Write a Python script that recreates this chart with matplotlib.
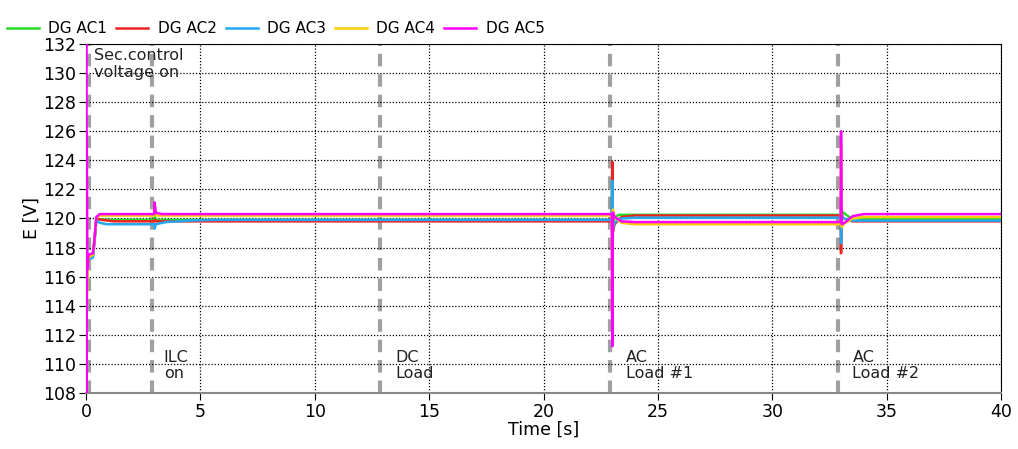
import numpy as np
import matplotlib
matplotlib.use("Agg")
import matplotlib.pyplot as plt

# series: (time [s], voltage [V]) breakpoints
t_ac1 = [0, 0.02, 0.05, 0.1, 0.3, 0.38, 0.45, 0.6, 1.0, 2.98, 3.0, 3.05, 4.0,
         22.98, 23.0, 23.03, 23.1, 23.3, 24.0, 32.98, 33.0, 33.03, 33.1, 33.4, 34.0, 40]
v_ac1 = [120, 114, 116.5, 117.3, 117.5, 118.8, 119.9, 119.95, 119.9, 119.9, 120.1, 119.9, 119.9,
         119.9, 123.7, 119.4, 120.1, 120.25, 120.25, 120.25, 119.2, 120.5, 120.4, 120.05, 119.95, 119.95]

t_ac2 = [0, 0.02, 0.05, 0.1, 0.3, 0.38, 0.45, 0.7, 1.2, 2.98, 3.0, 3.05, 4.0,
         22.98, 23.0, 23.03, 23.1, 23.4, 24.0, 32.98, 33.0, 33.03, 33.1, 33.5, 34.0, 40]
v_ac2 = [120, 113, 116.2, 117.2, 117.4, 118.6, 120.0, 119.9, 119.8, 119.8, 119.9, 119.8, 119.8,
         119.8, 123.9, 119.1, 119.6, 120.1, 120.2, 120.2, 117.6, 120.3, 120.0, 119.8, 119.8, 119.8]

t_ac3 = [0, 0.02, 0.05, 0.1, 0.3, 0.38, 0.45, 0.6, 0.9, 2.98, 3.0, 3.05, 3.5, 4.5, 5.5,
         22.98, 23.0, 23.03, 23.1, 23.4, 24.0, 32.98, 33.0, 33.03, 33.1, 33.5, 34.0, 40]
v_ac3 = [120, 113.5, 116.8, 117.2, 117.3, 118.5, 119.9, 119.7, 119.6, 119.6, 119.3, 119.6, 119.75, 119.85, 119.9,
         119.9, 122.6, 119.3, 119.7, 120.0, 120.05, 120.05, 118.3, 120.2, 120.0, 119.85, 119.85, 119.85]

t_ac4 = [0, 0.02, 0.05, 0.1, 0.3, 0.38, 0.45, 0.6, 1.0, 2.98, 3.0, 3.05, 4.0,
         22.98, 23.0, 23.03, 23.1, 23.4, 24.0, 32.98, 33.0, 33.03, 33.1, 33.5, 34.0, 40]
v_ac4 = [120, 112, 116.0, 117.3, 117.5, 118.7, 120.1, 120.2, 120.2, 120.2, 120.6, 120.2, 120.2,
         120.2, 111.5, 120.6, 120.1, 119.7, 119.6, 119.6, 125.0, 119.4, 119.6, 120.0, 120.1, 120.1]

t_ac5 = [0, 0.005, 0.012, 0.03, 0.06, 0.1, 0.3, 0.36, 0.45, 0.6, 1.0, 2.98, 3.0, 3.05, 3.3, 4.0,
         22.98, 23.0, 23.03, 23.1, 23.4, 24.0, 32.98, 33.0, 33.03, 33.15, 33.5, 34.0, 40]
v_ac5 = [120, 140, 100, 126, 116.5, 117.5, 117.6, 118.4, 120.1, 120.3, 120.3, 120.3, 121.1, 120.4, 120.3, 120.3,
         120.3, 111.2, 120.4, 120.1, 119.8, 119.75, 119.75, 126.0, 119.6, 119.7, 120.15, 120.3, 120.3]

series = [("DG AC1", t_ac1, v_ac1, "#22dd22"),
          ("DG AC2", t_ac2, v_ac2, "#ee2222"),
          ("DG AC3", t_ac3, v_ac3, "#22a8f0"),
          ("DG AC4", t_ac4, v_ac4, "#ffcc00"),
          ("DG AC5", t_ac5, v_ac5, "#ff00ff")]

event_times = [0.15, 2.9, 12.85, 22.9, 32.85]
event_labels = [(0.35, 131.7, "Sec.control\nvoltage on"),
                (3.4, 110.95, "ILC\non"),
                (13.5, 110.95, "DC\nLoad"),
                (23.6, 110.95, "AC\nLoad #1"),
                (33.5, 110.95, "AC\nLoad #2")]

fig = plt.figure(figsize=(10.18, 4.49), dpi=100)
ax = fig.add_axes([0.0845, 0.125, 0.899, 0.777])

for xv in event_times:
    ax.axvline(xv, color="#a0a0a0", lw=3, ls=(0, (3, 1.9)), zorder=1)

for name, t, v, c in series:
    ax.plot(t, v, color=c, lw=1.8, label=name, zorder=3)

for x, y, s in event_labels:
    ax.text(x, y, s, fontsize=11.5, va="top", ha="left", color="#222222",
            linespacing=1.1, zorder=4)

ax.set_xlim(0, 40)
ax.set_ylim(108, 132)
ax.set_xticks(np.arange(0, 41, 5))
ax.set_yticks(np.arange(108, 133, 2))
ax.grid(True, ls=(0, (1, 1.5)), color="black", lw=0.9, zorder=0)
ax.tick_params(labelsize=12.5, length=5, direction="out", pad=2)
ax.set_xlabel("Time [s]", fontsize=12.5, labelpad=0)
ax.set_ylabel("E [V]", fontsize=12.5, labelpad=2)
ax.spines["bottom"].set_color("#888888")
ax.spines["bottom"].set_linewidth(1.5)

ax.legend(loc="lower left", bbox_to_anchor=(-0.093, 1.005), ncol=5, frameon=False,
          fontsize=11, handlelength=2.1, handletextpad=0.6, columnspacing=0.6,
          borderaxespad=0)

plt.savefig("out.png", dpi=100)
